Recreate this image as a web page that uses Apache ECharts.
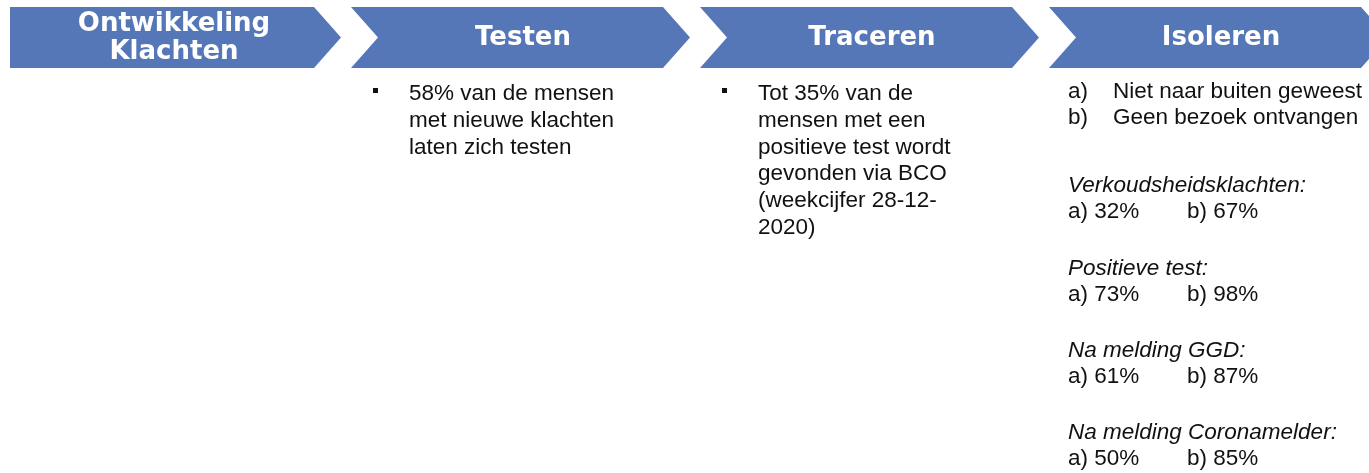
<!DOCTYPE html>
<html>
<head>
<meta charset="utf-8">
<script src="https://cdn.jsdelivr.net/npm/echarts@6/dist/echarts.min.js"></script>
<style>
html, body { margin: 0; padding: 0; background: #fff; }
#chart { width: 1369px; height: 473px; }
</style>
</head>
<body>
<div id="chart"></div>
<script>
// stappen in het proces
const steps = ['Ontwikkeling\nKlachten', 'Testen', 'Traceren', 'Isoleren'];
const testenLines = ['58% van de mensen', 'met nieuwe klachten', 'laten zich testen'];
const tracerenLines = ['Tot 35% van de', 'mensen met een', 'positieve test wordt', 'gevonden via BCO', '(weekcijfer 28-12-', '2020)'];
const isolerenOpties = ['Niet naar buiten geweest', 'Geen bezoek ontvangen'];
const situaties = ['Verkoudsheidsklachten:', 'Positieve test:', 'Na melding GGD:', 'Na melding Coronamelder:'];
const pctNietBuiten = [32, 73, 61, 50];
const pctGeenBezoek = [67, 98, 87, 85];

const bulletText = [[], testenLines, tracerenLines, []];

const BLUE = '#5677b7';
const bodyFont = { fontFamily: 'Arial', fontSize: 22.5 };

function txt(x, y, text, extra) {
  return {
    type: 'text', x: x, y: y,
    style: Object.assign({ text: text, fill: '#111', align: 'left', verticalAlign: 'middle' }, bodyFont, extra || {})
  };
}

function renderStep(params, api) {
  const i = api.value(0);
  const w = api.size([1, 0])[0];
  const bx = api.coord([i, 0])[0] - w / 2;
  const top = 7, bottom = 68, mid = 37.5, depth = 27, body = 312;
  const left = i === 0 ? bx + 8 : bx;
  const pts = [[left, top], [bx + body, top], [bx + body + depth, mid], [bx + body, bottom], [left, bottom]];
  if (i > 0) pts.push([bx + depth, mid]);

  const children = [
    { type: 'polygon', shape: { points: pts }, style: { fill: BLUE } },
    {
      type: 'text', x: bx + 172, y: mid + 1,
      style: {
        text: steps[i], fill: '#fff', align: 'center', verticalAlign: 'middle',
        fontFamily: 'DejaVu Sans', fontWeight: 'bold', fontSize: 26, lineHeight: 28
      }
    }
  ];

  // bullets onder Testen / Traceren
  const lines = bulletText[i];
  if (lines.length) {
    children.push({ type: 'rect', shape: { x: bx + 22, y: 88, width: 5, height: 5 }, style: { fill: '#111' } });
    lines.forEach((l, k) => children.push(txt(bx + 58, 94 + k * 26.7, l)));
  }

  // details onder Isoleren
  if (i === 3) {
    const ax = bx + 19;
    isolerenOpties.forEach((t, k) => {
      children.push(txt(ax, 92 + k * 26, ['a)', 'b)'][k]));
      children.push(txt(bx + 64, 92 + k * 26, t));
    });
    situaties.forEach((s, k) => {
      const y = 186 + k * 82.3;
      children.push(txt(ax, y, s, { fontStyle: 'italic' }));
      children.push(txt(ax, y + 26, 'a) ' + pctNietBuiten[k] + '%'));
      children.push(txt(bx + 138, y + 26, 'b) ' + pctGeenBezoek[k] + '%'));
    });
  }
  return { type: 'group', children: children };
}

const myChart = echarts.init(document.getElementById('chart'));
const option = {
  animation: false,
  grid: { left: 2, top: 0, width: 1396, bottom: 0, outerBoundsMode: 'none', containLabel: false },
  xAxis: { type: 'category', data: steps, show: false },
  yAxis: { type: 'value', min: 0, max: 1, show: false },
  series: [{
    type: 'custom',
    renderItem: renderStep,
    clip: false,
    encode: { x: 0, y: 1 },
    data: steps.map((s, i) => [i, 0])
  }]
};
myChart.setOption(option);
</script>
</body>
</html>
